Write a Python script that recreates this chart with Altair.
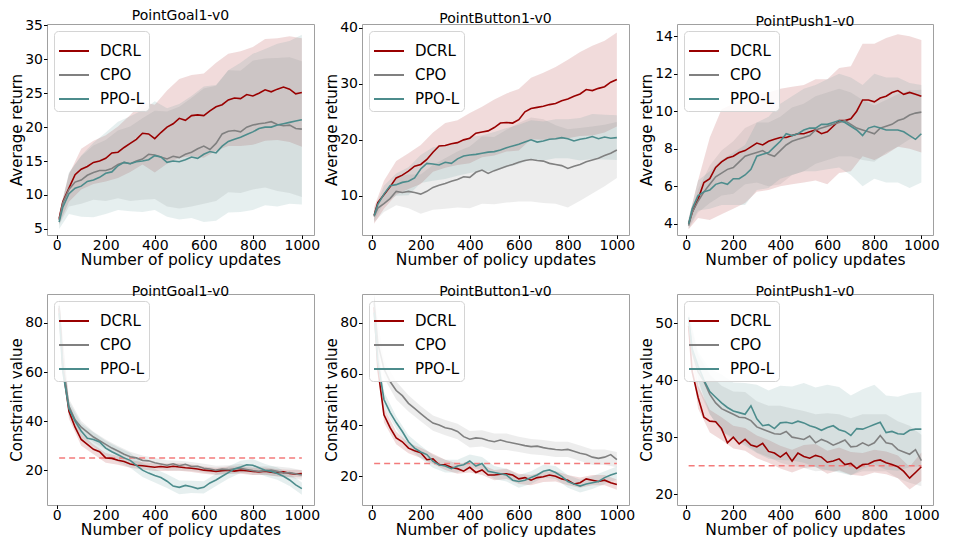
import altair as alt
import pandas as pd

METHODS = ["DCRL", "CPO", "PPO-L"]
COLORS = ["#990000", "#808080", "#4c8c8c"]

# sampling positions (policy updates)
X = [10] + list(range(25, 1001, 25))
XB = X[::2]
XTICKS = [0, 200, 400, 600, 800, 1000]
XLABEL = "Number of policy updates"

# ---------------- PointGoal1-v0 : Average return ----------------
G_R_DCRL = [6.5, 9.0, 11.0, 13.0, 13.8, 14.2, 14.8, 15.0, 15.4, 16.2, 16.3, 17.0, 17.6, 18.2, 19.1, 19.0, 18.3, 19.2, 20.0, 20.5, 21.3, 21.0, 21.7, 21.8, 21.7, 22.4, 23.0, 23.3, 24.0, 24.3, 24.2, 24.8, 24.6, 25.0, 25.5, 25.2, 25.6, 25.9, 25.6, 24.9, 25.1]
G_R_CPO = [6.3, 8.8, 10.8, 11.9, 12.2, 12.9, 13.3, 13.6, 13.6, 13.9, 14.5, 14.8, 14.6, 15.0, 15.3, 16.0, 15.9, 15.6, 15.3, 15.7, 15.5, 16.0, 16.3, 16.8, 17.2, 16.7, 17.6, 19.0, 19.4, 19.5, 19.3, 20.0, 20.3, 20.5, 20.6, 20.8, 20.4, 20.2, 20.3, 19.8, 19.7]
G_R_PPO = [6.0, 8.2, 10.2, 11.0, 11.3, 12.0, 12.2, 12.6, 13.2, 13.4, 14.3, 14.8, 14.6, 14.9, 15.0, 15.2, 15.8, 15.6, 14.8, 15.0, 14.9, 15.2, 15.6, 15.4, 16.0, 16.4, 16.2, 17.2, 17.9, 18.2, 18.5, 18.9, 19.3, 19.8, 20.0, 20.0, 20.3, 20.5, 20.7, 20.9, 21.1]
G_R_DCRL_SD = [0.8, 2.0, 3.0, 3.2, 3.4, 3.8, 4.2, 4.6, 5.0, 5.4, 5.8, 6.0, 6.2, 6.5, 6.8, 7.0, 7.2, 7.5, 7.5, 7.8, 8.0]
G_R_CPO_SD = [0.8, 2.5, 3.5, 4.0, 4.5, 5.0, 5.5, 6.0, 6.5, 7.0, 7.5, 8.0, 8.5, 8.5, 9.0, 9.0, 9.5, 9.5, 9.8, 10.0, 10.0]
G_R_PPO_SD = [1.0, 3.0, 4.5, 5.5, 6.0, 6.5, 7.0, 7.5, 8.0, 8.0, 8.5, 9.0, 10.0, 10.0, 10.5, 11.0, 11.5, 11.5, 12.0, 12.0, 12.5]

# ---------------- PointButton1-v0 : Average return ----------------
B_R_DCRL = [6.5, 8.8, 10.2, 11.6, 13.2, 13.7, 14.4, 15.3, 15.6, 16.5, 17.8, 18.9, 19.0, 19.3, 19.5, 20.0, 20.3, 21.2, 21.4, 21.6, 22.2, 23.0, 23.1, 23.0, 23.6, 25.0, 25.6, 25.8, 26.0, 26.3, 26.5, 27.0, 27.3, 27.8, 28.2, 29.0, 28.8, 29.2, 29.5, 30.3, 30.8]
B_R_CPO = [6.3, 7.8, 8.6, 9.5, 10.8, 10.6, 10.8, 10.6, 10.3, 10.8, 11.5, 11.9, 12.2, 12.6, 12.9, 13.4, 13.3, 14.2, 14.6, 14.0, 14.5, 14.9, 15.3, 15.6, 16.0, 16.3, 16.5, 16.3, 16.2, 15.8, 15.6, 15.4, 14.9, 15.3, 15.6, 16.1, 16.4, 16.7, 17.2, 17.6, 18.2]
B_R_PPO = [6.5, 8.5, 10.3, 11.8, 12.0, 12.4, 12.6, 13.2, 14.8, 15.8, 15.7, 15.5, 16.0, 15.8, 16.6, 17.1, 17.3, 17.4, 17.6, 17.8, 17.9, 18.2, 18.6, 18.9, 19.2, 19.6, 20.0, 19.6, 19.8, 20.1, 20.2, 20.4, 20.2, 19.8, 20.1, 20.3, 20.6, 20.2, 20.5, 20.3, 20.4]
B_R_DCRL_SD = [1.5, 2.5, 3.0, 3.2, 3.5, 3.5, 4.0, 4.0, 4.5, 4.5, 5.0, 5.2, 5.5, 5.5, 6.0, 6.5, 7.0, 7.5, 8.0, 8.2, 8.4]
B_R_CPO_SD = [1.0, 1.5, 2.5, 3.0, 3.5, 4.0, 4.5, 5.0, 5.5, 6.0, 6.0, 6.5, 7.0, 7.5, 7.5, 7.0, 7.0, 6.5, 6.0, 5.5, 5.0]
B_R_PPO_SD = [1.0, 1.5, 2.0, 2.5, 2.5, 3.0, 3.0, 3.0, 3.2, 3.2, 3.5, 3.5, 3.5, 3.5, 3.5, 3.5, 3.5, 3.8, 4.0, 4.0, 4.0]

# ---------------- PointPush1-v0 : Average return ----------------
P_R_DCRL = [4.0, 4.6, 5.3, 6.2, 6.4, 7.0, 7.3, 7.5, 7.6, 7.8, 7.9, 8.1, 8.3, 8.2, 8.4, 8.5, 8.6, 8.6, 8.7, 8.8, 8.8, 8.9, 9.0, 8.8, 8.9, 9.2, 9.5, 9.5, 9.6, 10.0, 10.6, 10.6, 10.5, 10.7, 10.8, 11.0, 11.1, 10.9, 11.0, 10.9, 10.8]
P_R_CPO = [3.9, 4.6, 5.2, 5.7, 6.1, 6.5, 6.7, 6.9, 7.0, 7.3, 7.6, 7.7, 7.8, 7.9, 7.7, 7.6, 7.9, 8.2, 8.4, 8.5, 8.6, 8.7, 9.0, 9.1, 9.2, 9.3, 9.4, 9.5, 9.3, 9.1, 9.0, 8.9, 8.8, 9.1, 9.2, 9.3, 9.5, 9.6, 9.8, 9.9, 9.95]
P_R_PPO = [4.0, 4.8, 5.5, 5.7, 5.8, 6.1, 6.2, 6.1, 6.4, 6.4, 6.6, 6.9, 7.6, 7.7, 7.8, 8.1, 8.4, 8.8, 8.7, 8.8, 9.0, 9.1, 9.1, 9.3, 9.3, 9.4, 9.5, 9.4, 9.2, 9.0, 8.7, 9.1, 9.2, 9.1, 9.0, 9.0, 9.0, 8.9, 8.7, 8.5, 8.8]
P_R_DCRL_SD = [0.3, 1.0, 2.2, 2.8, 2.8, 2.8, 2.6, 2.6, 2.6, 2.6, 2.6, 2.7, 2.8, 2.8, 2.8, 3.0, 3.1, 3.1, 3.0, 3.0, 3.0]
P_R_CPO_SD = [0.2, 0.6, 1.0, 1.2, 1.4, 1.5, 1.6, 1.7, 1.8, 1.8, 1.8, 1.8, 1.8, 1.8, 1.7, 1.6, 1.5, 1.4, 1.4, 1.3, 1.2]
P_R_PPO_SD = [0.2, 0.8, 1.0, 1.2, 1.4, 1.6, 1.8, 1.9, 2.0, 2.1, 2.2, 2.3, 2.4, 2.5, 2.6, 2.7, 2.8, 2.8, 2.8, 2.8, 2.6]

# ---------------- PointGoal1-v0 : Constraint value ----------------
G_C_DCRL = [86, 62, 44, 37.5, 32.5, 30.5, 28.5, 27.5, 25.0, 24.8, 24.0, 23.5, 22.5, 22.0, 21.8, 21.5, 21.2, 21.5, 21.2, 21.6, 21.3, 21.0, 20.8, 20.5, 20.0, 19.8, 19.5, 19.8, 20.0, 19.6, 20.0, 19.8, 19.5, 19.3, 19.6, 19.2, 18.9, 19.3, 18.7, 18.4, 18.6]
G_C_CPO = [87, 63, 46, 40.5, 37.5, 35.5, 33.5, 32.0, 30.5, 29.0, 27.8, 26.5, 25.5, 25.0, 24.0, 23.8, 23.0, 22.5, 22.0, 22.6, 21.8, 22.4, 21.5, 21.6, 20.8, 20.5, 20.0, 20.4, 20.2, 20.6, 20.8, 20.3, 19.8, 19.5, 19.8, 20.0, 19.5, 18.8, 19.0, 18.5, 18.0]
G_C_PPO = [84, 60, 45, 40.0, 36.0, 33.0, 32.5, 31.5, 29.0, 27.5, 26.3, 25.0, 24.0, 22.0, 20.0, 18.8, 17.8, 17.0, 15.5, 13.5, 13.0, 13.8, 13.2, 12.5, 13.0, 14.8, 16.0, 17.5, 19.0, 20.5, 21.3, 22.2, 22.0, 21.0, 20.0, 19.5, 18.6, 17.5, 16.0, 14.0, 12.5]
G_C_DCRL_SD = [3, 3, 2.5, 2, 2, 1.8, 1.5, 1.5, 1.5, 1.5, 1.5, 1.5, 1.5, 1.5, 1.5, 1.5, 1.5, 1.5, 1.5, 1.5, 1.5]
G_C_CPO_SD = [3, 3, 2.5, 2.2, 2, 2, 2, 2, 2, 2, 2, 1.8, 1.8, 1.8, 1.8, 1.8, 1.8, 1.8, 2, 2, 2]
G_C_PPO_SD = [3, 3, 3, 3, 3, 3, 3, 2.8, 2.8, 2.8, 2.8, 2.5, 2.5, 2.5, 2.5, 2.5, 2.5, 2.5, 2.5, 2.5, 2.5]

# ---------------- PointButton1-v0 : Constraint value ----------------
B_C_DCRL = [86, 62, 44, 39, 35, 33.5, 31, 30, 29.2, 26.5, 26.8, 24.5, 24.5, 23.5, 23.0, 22.0, 23.5, 21.5, 22.5, 20.5, 20.5, 20.8, 21.0, 20.5, 19.0, 19.5, 18.5, 19.5, 19.8, 20.5, 20.0, 19.0, 18.5, 17.0, 17.5, 19.0, 18.5, 18.0, 18.5, 17.5, 16.8]
B_C_CPO = [88, 72, 62, 57, 53.5, 51.5, 48.5, 46.5, 44.5, 42.5, 40.8, 40.0, 39.0, 38.5, 37.5, 35.5, 34.5, 35.0, 34.8, 34.0, 33.5, 34.2, 33.5, 33.0, 32.5, 32.0, 31.6, 31.8, 31.2, 30.8, 30.5, 30.3, 30.5, 29.8, 29.0, 28.5, 27.5, 27.0, 27.5, 28.5, 26.5]
B_C_PPO = [84, 65, 50, 45, 41, 37.5, 33.5, 31, 29.5, 28.5, 25.8, 24.5, 24.0, 23.0, 24.0, 24.5, 26.0, 24.0, 25.0, 22.0, 21.5, 21.0, 20.5, 18.5, 18.0, 18.5, 19.5, 20.5, 22.0, 22.5, 21.5, 20.0, 18.0, 17.0, 16.2, 17.0, 17.5, 18.0, 19.5, 20.5, 21.3]
B_C_DCRL_SD = [3, 3, 2.5, 2, 2, 2, 2, 2, 2, 2, 2, 2, 2, 2, 2, 2, 2, 2, 2, 2, 2]
B_C_CPO_SD = [3, 3.5, 3.5, 3.2, 3, 3, 3, 3, 3.2, 3.2, 3.2, 3.2, 3, 3, 3, 3, 3, 3, 3, 3, 3]
B_C_PPO_SD = [3, 3, 2.5, 2.5, 2.5, 2.5, 2.5, 2.5, 2.5, 2.5, 2.5, 2.5, 2.5, 2.5, 2.5, 2.5, 2.5, 2.5, 2.5, 2.5, 2.5]

# ---------------- PointPush1-v0 : Constraint value ----------------
P_C_DCRL = [49.5, 41.5, 37.0, 33.5, 32.8, 32.7, 31.5, 29.0, 30.0, 28.8, 29.6, 28.6, 28.3, 28.9, 27.5, 27.2, 26.5, 27.3, 25.8, 27.2, 26.6, 26.3, 26.8, 26.5, 25.6, 25.8, 26.2, 25.2, 25.4, 24.5, 25.2, 25.3, 25.8, 26.0, 25.5, 25.2, 24.8, 24.0, 22.8, 23.8, 24.8]
P_C_CPO = [50.5, 45.0, 41.5, 39.8, 37.5, 36.0, 35.0, 34.5, 34.0, 33.5, 33.4, 32.9, 31.8, 31.4, 31.0, 30.6, 30.5, 31.0, 30.0, 29.8, 29.6, 30.2, 29.0, 29.6, 29.2, 28.6, 29.0, 29.5, 28.3, 28.4, 29.0, 28.5, 29.0, 30.3, 29.0, 28.8, 27.8, 27.4, 27.0, 27.8, 25.9]
P_C_PPO = [51, 45.5, 42.5, 40.0, 38.0, 37.0, 36.0, 35.2, 34.6, 34.3, 34.0, 35.5, 33.2, 32.0, 32.2, 31.5, 32.5, 32.6, 32.4, 32.8, 32.5, 32.0, 31.7, 31.2, 31.7, 32.0, 31.3, 31.0, 30.3, 31.5, 31.4, 31.8, 32.2, 32.6, 30.8, 31.0, 30.6, 30.5, 31.2, 31.4, 31.4]
P_C_DCRL_SD = [1.5, 2, 2, 2, 2, 2, 2, 2, 2, 2, 2, 2, 2, 2, 2, 2, 2, 2, 2, 2, 2.5]
P_C_CPO_SD = [1, 3, 3.5, 4, 4, 4.5, 4.5, 4.5, 5, 5, 5, 5, 5, 5, 5, 5, 5, 5, 5, 5, 4.5]
P_C_PPO_SD = [1, 2.5, 4, 5, 5, 5.5, 6, 6, 6.5, 6.5, 7, 7, 7.5, 7.5, 7, 7, 7, 6.5, 6.5, 6.5, 6.5]

COST_LIMIT = 25

PANELS = [
    dict(title="PointGoal1-v0", ylabel="Average return", means=[G_R_DCRL, G_R_CPO, G_R_PPO],
         sds=[G_R_DCRL_SD, G_R_CPO_SD, G_R_PPO_SD], domain=[4.1, 35.2], ticks=[5, 10, 15, 20, 25, 30, 35], limit=None, w=267),
    dict(title="PointButton1-v0", ylabel="Average return", means=[B_R_DCRL, B_R_CPO, B_R_PPO],
         sds=[B_R_DCRL_SD, B_R_CPO_SD, B_R_PPO_SD], domain=[3.0, 40.7], ticks=[10, 20, 30, 40], limit=None, w=267),
    dict(title="PointPush1-v0", ylabel="Average return", means=[P_R_DCRL, P_R_CPO, P_R_PPO],
         sds=[P_R_DCRL_SD, P_R_CPO_SD, P_R_PPO_SD], domain=[3.4, 14.65], ticks=[4, 6, 8, 10, 12, 14], limit=None, w=256),
    dict(title="PointGoal1-v0", ylabel="Constraint value", means=[G_C_DCRL, G_C_CPO, G_C_PPO],
         sds=[G_C_DCRL_SD, G_C_CPO_SD, G_C_PPO_SD], domain=[5.8, 91.8], ticks=[20, 40, 60, 80], limit=COST_LIMIT, w=267),
    dict(title="PointButton1-v0", ylabel="Constraint value", means=[B_C_DCRL, B_C_CPO, B_C_PPO],
         sds=[B_C_DCRL_SD, B_C_CPO_SD, B_C_PPO_SD], domain=[8.8, 91.2], ticks=[20, 40, 60, 80], limit=COST_LIMIT, w=267),
    dict(title="PointPush1-v0", ylabel="Constraint value", means=[P_C_DCRL, P_C_CPO, P_C_PPO],
         sds=[P_C_DCRL_SD, P_C_CPO_SD, P_C_PPO_SD], domain=[18.1, 55.1], ticks=[20, 30, 40, 50], limit=COST_LIMIT, w=256),
]

XDOM = [-39.5, 1049.5]
H = 211


def xenc(field):
    return alt.X(f"{field}:Q", scale=alt.Scale(domain=XDOM, nice=False, zero=False),
                 axis=alt.Axis(values=XTICKS, title=XLABEL, format="d"))


def yenc(field, p):
    return alt.Y(f"{field}:Q", scale=alt.Scale(domain=p["domain"], nice=False, zero=False),
                 axis=alt.Axis(values=p["ticks"], title=p["ylabel"], format="d"))


def make_panel(p):
    rows, brows = [], []
    for m, mean, sd in zip(METHODS, p["means"], p["sds"]):
        for x, v in zip(X, mean):
            rows.append({"x": x, "y": v, "method": m})
        for x, v, s in zip(XB, mean[::2], sd):
            brows.append({"x": x, "lo": v - s, "hi": v + s, "method": m})
    df = pd.DataFrame(rows)
    dfb = pd.DataFrame(brows)
    layers = []
    for m, c in zip(METHODS, COLORS):
        layers.append(
            alt.Chart(dfb).transform_filter(alt.datum.method == m)
            .mark_area(color=c, opacity=0.14, clip=True)
            .encode(x=xenc("x"), y=yenc("lo", p), y2="hi:Q")
        )
    if p["limit"] is not None:
        lim = pd.DataFrame({"x": [10], "x2": [1000], "y": [p["limit"]]})
        layers.append(
            alt.Chart(lim).mark_rule(color="#f37b7b", strokeDash=[6, 4], strokeWidth=1.5)
            .encode(x=xenc("x"), x2="x2:Q", y=yenc("y", p))
        )
    line = alt.Chart(df).mark_line(strokeWidth=1.6, clip=True).encode(
        x=xenc("x"), y=yenc("y", p),
        color=alt.Color("method:N", scale=alt.Scale(domain=METHODS, range=COLORS),
                        legend=alt.Legend(orient="top-left", title=None, symbolType="stroke",
                                          symbolSize=900, symbolStrokeWidth=2, labelFontSize=15,
                                          labelFont="DejaVu Sans", labelColor="black",
                                          rowPadding=-10, padding=4, offset=7, labelOffset=10,
                                          strokeColor="#d4d4d4", cornerRadius=4,
                                          fillColor="rgba(255,255,255,0.85)")),
    )
    layers.append(line)
    return alt.layer(*layers).properties(width=p["w"], height=H, title=p["title"])


charts = [make_panel(p) for p in PANELS]
chart = alt.concat(*charts, columns=3, spacing={"row": 59, "column": 48}, bounds="flush").resolve_legend(
    color="independent").resolve_scale(color="independent")

chart = chart.properties(
    padding={"left": 9, "top": 8, "right": 0, "bottom": 0},
    background="white",
).configure(font="DejaVu Sans").configure_axis(
    grid=False, domain=False, tickColor="black", tickSize=3.5, tickWidth=1,
    labelColor="black", labelFontSize=14, labelPadding=1, titleFontSize=15,
    titleFontWeight="normal", titleColor="black", labelFont="DejaVu Sans", titleFont="DejaVu Sans",
).configure_axisX(titlePadding=0, labelPadding=0, titleFontSize=15.5).configure_axisY(titlePadding=0).configure_view(
    stroke="#a0a0a0", strokeWidth=1
).configure_title(fontSize=14, fontWeight="normal", font="DejaVu Sans", color="black", offset=-5, anchor="middle")

chart.save("out.html", embed_options={"renderer": "svg", "actions": False})
